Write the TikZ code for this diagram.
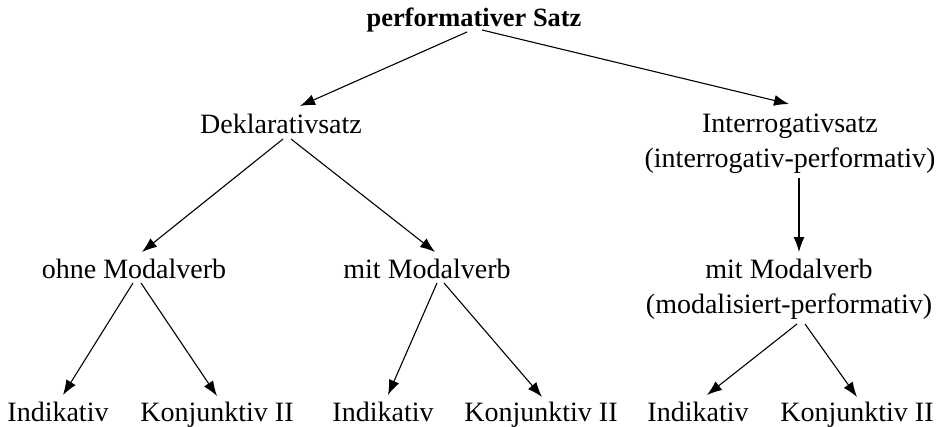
\documentclass[tikz,border=0pt]{standalone}
\usepackage{fontspec}
\setmainfont{Liberation Serif}
\usetikzlibrary{arrows.meta}

\tikzset{
    satz/.style={anchor=base, inner sep=0pt, align=center,
                 font=\fontsize{14}{17.5}\selectfont},
    kopf/.style={satz, font=\fontsize{13.2}{16}\selectfont\bfseries},
    pfeil/.style={->, line width=0.55pt}
}

\begin{document}
\begin{tikzpicture}[
                        x=0.5pt, y=-0.5pt,
                        >={Latex[length=7.5pt,width=5.5pt]}
                    ]
                    \useasboundingbox (0,0) rectangle (940,427);
                    % Blocks
                    \node [kopf] (perf) at (474,27) {performativer Satz};
                    \node [satz] (dekl) at (281,134) {Deklarativsatz};
                    \node [satz] (inter) at (790,168) {Interrogativsatz\\(interrogativ-performativ)};
                    \node [satz] (ohne) at (134,278) {ohne Modalverb};
                    \node [satz] (mit) at (427,278) {mit Modalverb};
                    \node [satz] (mitmod) at (789,313) {mit Modalverb\\(modalisiert-performativ)};
                    \node [satz] (indA) at (58,421) {Indikativ};
                    \node [satz] (konjA) at (217,421) {Konjunktiv II};
                    \node [satz] (indB) at (383,421) {Indikativ};
                    \node [satz] (konjB) at (541,421) {Konjunktiv II};
                    \node [satz] (indC) at (698,421) {Indikativ};
                    \node [satz] (konjC) at (857,421) {Konjunktiv II};

                    % Connections
                    \draw [pfeil] ([shift={(-7,5)}]perf.base) -- ([shift={(19,-28)}]dekl.base);
                    \draw [pfeil] ([shift={(8,3)}]perf.base) -- ([shift={(-1,-64)}]inter.base);
                    \draw [pfeil] ([shift={(2,5)}]dekl.base) -- ([shift={(8,-26)}]ohne.base);
                    \draw [pfeil] ([shift={(10,5)}]dekl.base) -- ([shift={(8,-26)}]mit.base);
                    \draw [pfeil] ([shift={(-1,5)}]ohne.base) -- ([shift={(5,-26)}]indA.base);
                    \draw [pfeil] ([shift={(7,5)}]ohne.base) -- ([shift={(0,-25)}]konjA.base);
                    \draw [pfeil] ([shift={(10,5)}]mit.base) -- ([shift={(5,-26)}]indB.base);
                    \draw [pfeil] ([shift={(17,5)}]mit.base) -- ([shift={(1,-24)}]konjB.base);
                    \draw [pfeil] ([shift={(9,10)}]inter.base) -- ([shift={(10,-61)}]mitmod.base);
                    \draw [pfeil] ([shift={(8,11)}]mitmod.base) -- ([shift={(9,-26)}]indC.base);
                    \draw [pfeil] ([shift={(16,11)}]mitmod.base) -- ([shift={(0,-24)}]konjC.base);
\end{tikzpicture}
\end{document}
